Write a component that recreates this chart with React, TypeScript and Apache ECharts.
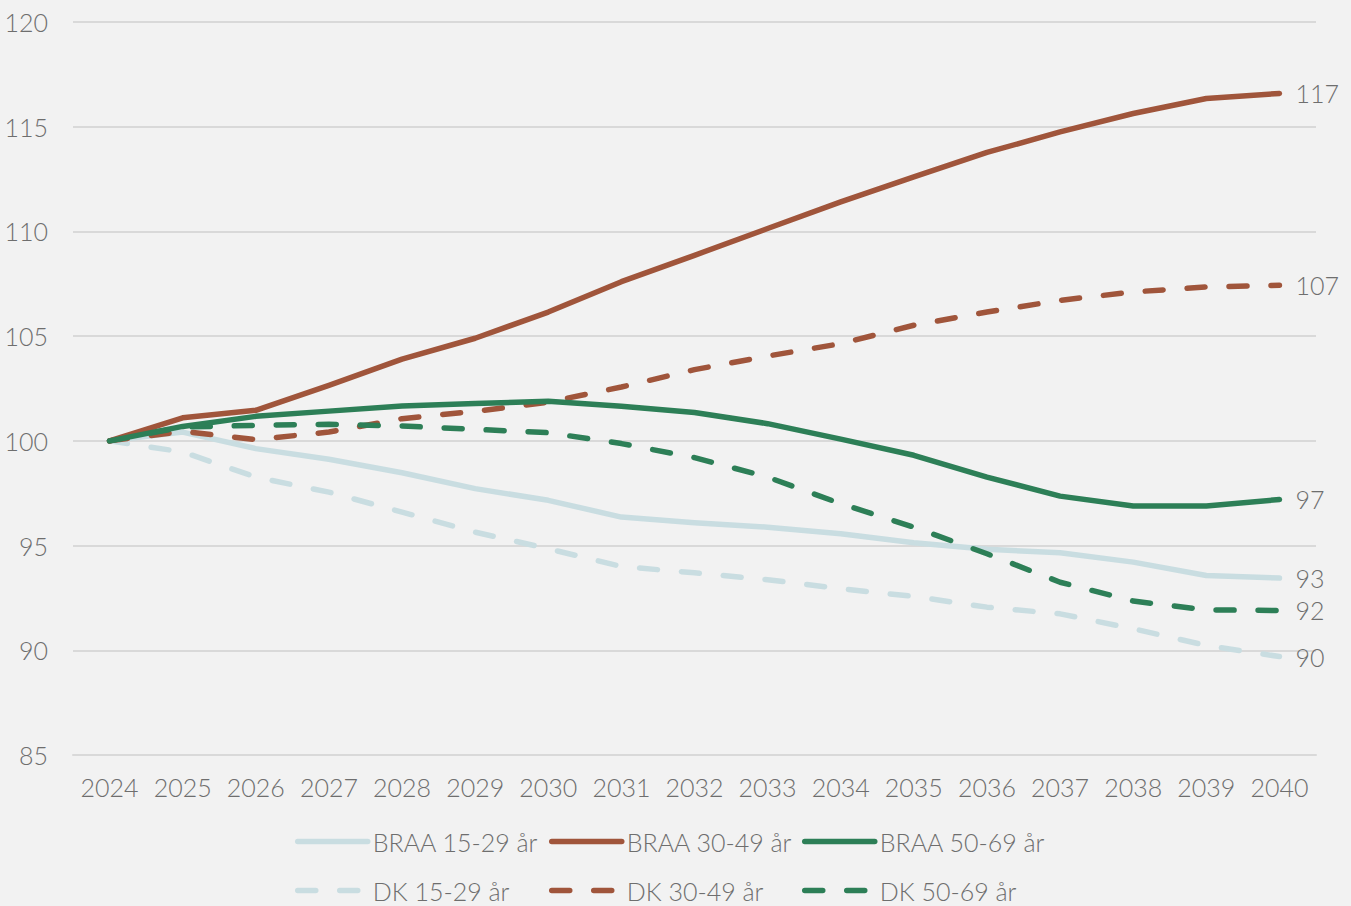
import React, { useEffect, useRef } from "react";
import * as echarts from "echarts";

const years = ["2024","2025","2026","2027","2028","2029","2030","2031","2032","2033","2034","2035","2036","2037","2038","2039","2040"];

const braa1529 = [100, 100.42, 99.63, 99.12, 98.48, 97.72, 97.16, 96.36, 96.09, 95.88, 95.56, 95.13, 94.82, 94.66, 94.21, 93.57, 93.45];
const braa3049 = [100, 101.1, 101.46, 102.65, 103.9, 104.9, 106.15, 107.6, 108.86, 110.14, 111.41, 112.6, 113.77, 114.75, 115.63, 116.35, 116.59];
const braa5069 = [100, 100.69, 101.17, 101.42, 101.66, 101.78, 101.89, 101.65, 101.35, 100.82, 100.08, 99.31, 98.27, 97.36, 96.89, 96.89, 97.2];
const dk1529 = [100, 99.47, 98.27, 97.55, 96.6, 95.64, 94.85, 94.0, 93.7, 93.37, 92.94, 92.57, 92.06, 91.74, 91.03, 90.23, 89.7];
const dk3049 = [100, 100.45, 100.06, 100.42, 101.06, 101.41, 101.85, 102.57, 103.4, 104.05, 104.64, 105.52, 106.15, 106.71, 107.11, 107.35, 107.43];
const dk5069 = [100, 100.66, 100.74, 100.79, 100.71, 100.55, 100.39, 99.87, 99.2, 98.27, 97.0, 95.88, 94.61, 93.25, 92.35, 91.93, 91.9];

const yTicks = { min: 85, max: 120, interval: 5 };

const LIGHT = "#C9DDE1";
const BROWN = "#A0553B";
const GREEN = "#2D7F57";
const TEXT = "#6E6E6E";
const FONT = "Lato";
const FS = 25;
const LW = 5.5;
const DASH = [18, 24];

export default function App() {
  const ref = useRef<HTMLDivElement>(null);
  useEffect(() => {
    if (!ref.current) return;
    const chart = echarts.init(ref.current, null, { renderer: "svg" });
    const mk = (name: string, data: number[], color: string, dashed: boolean, z: number) => ({
      name,
      type: "line",
      data,
      symbol: "none",
      z,
      lineStyle: {
        color,
        width: LW,
        type: dashed ? DASH : "solid",
        cap: "round",
        join: "round",
      },
      itemStyle: { color },
      endLabel: {
        show: true,
        distance: 16,
        color: TEXT,
        fontFamily: FONT,
        fontWeight: 300,
        fontSize: FS,
        formatter: (p: any) => String(Math.round(p.value)),
      },
    });
    const legendText = { color: TEXT, fontFamily: FONT, fontWeight: 300, fontSize: FS };
    const colsX = [290, 544, 797];
    const rowsY = [824, 873];
    const names = ["BRAA 15-29 år", "BRAA 30-49 år", "BRAA 50-69 år", "DK 15-29 år", "DK 30-49 år", "DK 50-69 år"];
    const legends = names.map((n, i) => ({
      data: [n],
      left: colsX[i % 3],
      top: rowsY[Math.floor(i / 3)],
      itemWidth: 70,
      itemHeight: 2,
      itemGap: 0,
      textStyle: legendText,
      selectedMode: false,
      itemStyle: { opacity: 0, borderWidth: 0 },
      lineStyle: { width: LW, cap: "round" },
    }));
    chart.setOption({
      animation: false,
      backgroundColor: "#F2F2F2",
      grid: { left: 73, right: 35, top: 22, bottom: 151, containLabel: false },
      legend: legends,
      xAxis: {
        type: "category",
        data: years,
        boundaryGap: true,
        axisLine: { show: true, lineStyle: { color: "#D9D9D9", width: 2 } },
        axisTick: { show: false },
        axisLabel: { interval: 0, hideOverlap: false, color: TEXT, fontFamily: FONT, fontWeight: 300, fontSize: FS, margin: 19 },
      },
      yAxis: {
        type: "value",
        min: yTicks.min,
        max: yTicks.max,
        interval: yTicks.interval,
        axisLine: { show: false },
        axisTick: { show: false },
        splitLine: { lineStyle: { color: "#D9D9D9", width: 2 } },
        axisLabel: { color: TEXT, fontFamily: FONT, fontWeight: 300, fontSize: FS, margin: 25 },
      },
      series: [
        mk("BRAA 15-29 år", braa1529, LIGHT, false, 2),
        mk("BRAA 30-49 år", braa3049, BROWN, false, 5),
        mk("BRAA 50-69 år", braa5069, GREEN, false, 6),
        mk("DK 15-29 år", dk1529, LIGHT, true, 1),
        mk("DK 30-49 år", dk3049, BROWN, true, 3),
        mk("DK 50-69 år", dk5069, GREEN, true, 4),
      ],
    });
    return () => chart.dispose();
  }, []);
  return (
    <div
      ref={ref}
      style={{ position: "absolute", left: 0, top: 0, width: 1351, height: 906 }}
    />
  );
}
